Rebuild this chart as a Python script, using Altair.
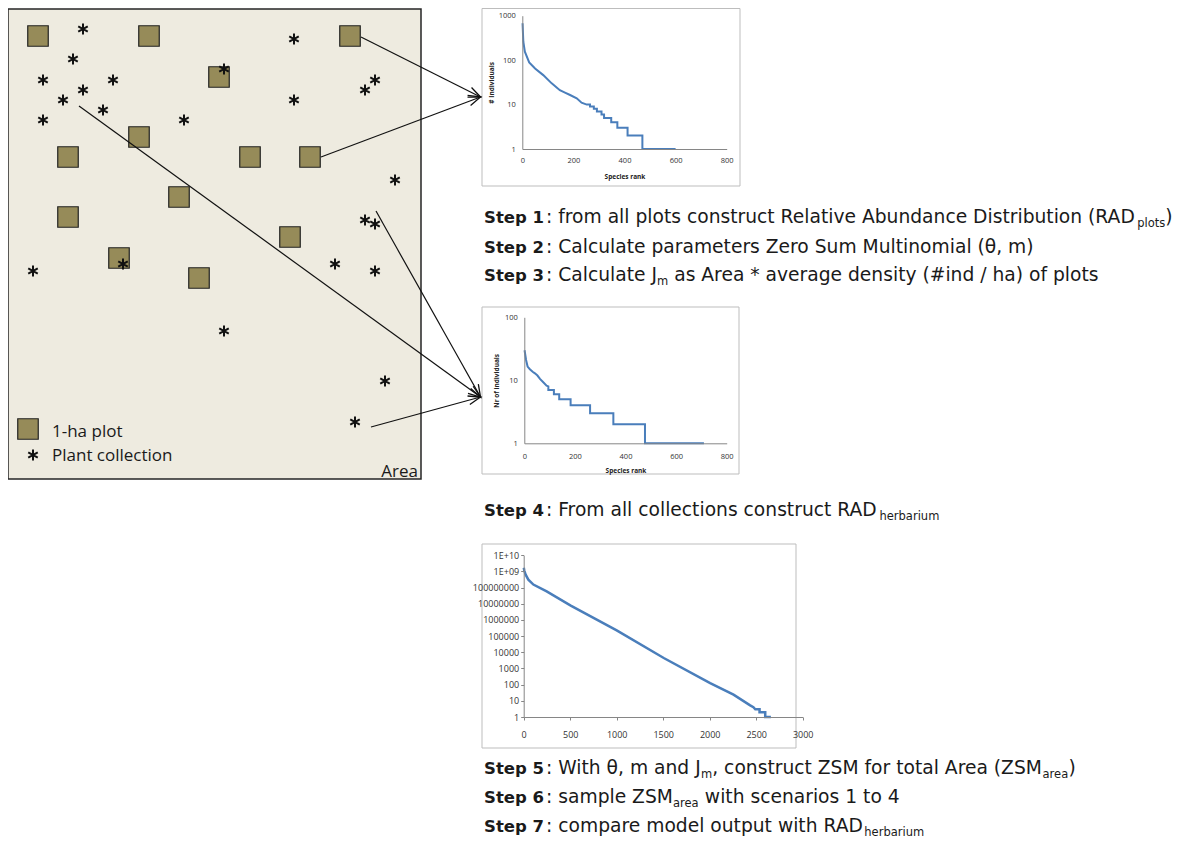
import altair as alt
import pandas as pd

W, H = 1173, 831          # drawing area (page minus 8px margins)
M = 8                     # page margin: reference pixel -> plot pixel = ref - M

# ---------------- data: the three small rank-abundance charts ----------------
rad_plots_rank = [1, 4, 10, 27, 50, 82, 115, 147, 167, 187, 213, 232, 252, 265, 265, 280, 280,
                  292, 292, 310, 310, 320, 320, 348, 348, 372, 372, 412, 412, 470, 470, 600]
rad_plots_n = [676, 260, 155, 89, 65, 46, 30, 21, 18.6, 16.4, 13.8, 11, 10, 10, 9, 9, 8,
               8, 7, 7, 6, 6, 5, 5, 4, 4, 3, 3, 2, 2, 1, 1]

rad_herb_rank = [1, 7, 13, 22, 33, 42, 52, 62, 75, 88, 95, 95, 117, 117, 138, 138, 183, 183,
                 260, 260, 352, 352, 477, 477, 710]
rad_herb_n = [30, 21, 16.5, 15, 13.7, 12.9, 11.9, 10.5, 9.3, 8.2, 8, 7, 7, 6, 6, 5, 5, 4,
              4, 3, 3, 2, 2, 1, 1]

zsm_rank = [1, 7, 21, 50, 104, 247, 506, 1000, 1506, 2005, 2256, 2435, 2470, 2490, 2536,
            2536, 2597, 2597, 2658]
zsm_n = [1.7e9, 1.1e9, 6.3e8, 3.1e8, 1.55e8, 5.9e7, 7.8e6, 2.3e5, 4470, 126, 24, 5.2, 4, 3, 3,
         2, 2, 1, 1]

plots_ticks = [1, 10, 100, 1000]
herb_ticks = [1, 10, 100]
zsm_ticks = [1, 10, 100, 1000, 10000, 100000, 1000000, 10000000, 100000000, 1e9, 1e10]
rank_ticks_800 = [0, 200, 400, 600, 800]
rank_ticks_3000 = [0, 500, 1000, 1500, 2000, 2500, 3000]

# ---------------- data: the schematic study area ----------------
plot_x = [38, 149, 350, 219, 139, 68, 250, 310, 179, 68, 290, 119, 199]
plot_y = [36, 36, 36, 77, 137, 157, 157, 157, 197, 217, 237, 258, 278]
coll_x = [83, 294, 73, 43, 113, 224, 375, 365, 83, 63, 294, 103, 43, 184, 395, 365, 375,
          33, 123, 335, 375, 224, 385, 355]
coll_y = [29, 39, 59, 80, 80, 69, 80, 90, 90, 100, 100, 110, 120, 120, 180, 220, 224,
          271, 264, 264, 271, 331, 381, 422]

legend_labels = ["1-ha plot", "Plant collection"]
area_label_text = "Area"

# step descriptions: (text, kind) with kind b = bold, n = normal, s = subscript
steps = [
    [("Step 1", "b"), (": from all plots construct Relative Abundance Distribution (RAD", "n"),
     ("plots", "s"), (")", "n")],
    [("Step 2", "b"), (": Calculate parameters Zero Sum Multinomial (θ, m)", "n")],
    [("Step 3", "b"), (": Calculate J", "n"), ("m", "s"),
     (" as Area * average density (#ind / ha) of plots", "n")],
    [("Step 4", "b"), (": From all collections construct RAD", "n"), ("herbarium", "s")],
    [("Step 5", "b"), (": With θ, m and J", "n"), ("m", "s"),
     (", construct ZSM for total Area (ZSM", "n"), ("area", "s"), (")", "n")],
    [("Step 6", "b"), (": sample ZSM", "n"), ("area", "s"), (" with scenarios 1 to 4", "n")],
    [("Step 7", "b"), (": compare model output with RAD", "n"), ("herbarium", "s")],
]

# ---------------- layout (reference pixel coordinates) ----------------
area_box = dict(x=8, x2=421, y=9, y2=479)
panel_x = [482, 482, 482]
panel_x2 = [740, 739, 796]
panel_y = [8.5, 307, 544]
panel_y2 = [186, 474, 748]

arrow_x1 = [361, 321, 79, 376, 371]
arrow_y1 = [37, 157, 106, 211, 427]
arrow_x2 = [480.5, 480.5, 480.5, 480.5, 480.5]
arrow_y2 = [97, 97, 397, 397, 397]

step_baseline = [223.3, 252.7, 281, 516.3, 774.3, 803.3, 831.7]
STEP_X, COLON_X = 484, 546
FS_N, FS_B, FS_S, SUB_DROP = 18.7, 16.5, 11.5, 4

FONT = "Open Sans"
STEP_FONT = "DejaVu Sans"
INK = "#1a1a1a"
BLUE = "#4A7EBB"

ASTERISK = "M0,-1L0,1M-0.87,-0.5L0.87,0.5M-0.87,0.5L0.87,-0.5"
ARROW = "M-1,-0.36L0,0L-1,0.36"

# approximate DejaVu Sans advance widths (em) used to chain text runs
_DV = {" ": .318, ":": .337, ",": .318, "(": .390, ")": .390, "*": .500, "#": .838, "/": .337,
       "θ": .602, "-": .361,
       "A": .684, "C": .698, "D": .770, "F": .575, "J": .295, "M": .863, "R": .695, "S": .635,
       "W": .989, "Z": .685,
       "a": .613, "b": .635, "c": .550, "d": .635, "e": .615, "f": .352, "g": .635, "h": .634,
       "i": .278, "j": .278, "k": .579, "l": .278, "m": .974, "n": .634, "o": .612, "p": .635,
       "q": .635, "r": .411, "s": .521, "t": .392, "u": .634, "v": .592, "w": .818, "x": .592,
       "y": .592, "z": .525}


def tw(s, size):
    return sum(_DV.get(c, 0.636) for c in s) * size


rows = []
for li, line in enumerate(steps):
    xcur = None
    for text, kind in line:
        if kind == "b":
            rows.append(dict(t=text, x=STEP_X, y=step_baseline[li], k="b"))
            xcur = COLON_X
            continue
        size = FS_S if kind == "s" else FS_N
        lead = len(text) - len(text.lstrip(" "))
        x0 = xcur + tw(text[:lead], size)
        body = text.strip(" ")
        rows.append(dict(t=body, x=x0, y=step_baseline[li] + (SUB_DROP if kind == "s" else 0), k=kind))
        xcur = x0 + tw(body, size)
steps_df = pd.DataFrame(rows)


def sx():
    return alt.Scale(domain=[M, M + W], range=[0, W], nice=False, zero=False)


def sy():
    return alt.Scale(domain=[M, M + H], range=[0, H], nice=False, zero=False)


def base(df):
    return alt.Chart(df)


def XY(xf="x", yf="y"):
    return dict(x=alt.X(f"{xf}:Q", scale=sx(), axis=None), y=alt.Y(f"{yf}:Q", scale=sy(), axis=None))


area = base(pd.DataFrame([area_box])).mark_rect(
    fill="#EEEBE0", stroke="#262626", strokeWidth=1.5
).encode(**XY(), x2="x2:Q", y2="y2:Q")

panels = base(pd.DataFrame({"x": panel_x, "x2": panel_x2, "y": panel_y, "y2": panel_y2})).mark_rect(
    fill="white", stroke="#BDBDBD", strokeWidth=1
).encode(**XY(), x2="x2:Q", y2="y2:Q")

squares = base(pd.DataFrame({"x": plot_x + [28], "y": plot_y + [429]})).mark_square(
    size=420, fill="#968B59", stroke="#222222", strokeWidth=1.2, opacity=1
).encode(**XY())

stars = base(pd.DataFrame({"x": coll_x + [33], "y": coll_y + [455]})).mark_point(
    shape=ASTERISK, size=120, stroke="#111111", strokeWidth=2, filled=False, opacity=1
).encode(**XY())

arr_df = pd.DataFrame({"x": arrow_x1, "y": arrow_y1, "x2": arrow_x2, "y2": arrow_y2})
arrow_lines = base(arr_df).mark_rule(color="#111111", strokeWidth=1.2).encode(
    **XY(), x2="x2:Q", y2="y2:Q")
arrow_heads = base(arr_df).transform_calculate(
    ang="atan2(datum.y2 - datum.y, datum.x2 - datum.x) * 180 / PI"
).mark_point(shape=ARROW, size=600, stroke="#111111", strokeWidth=1.3, filled=False, opacity=1).encode(
    **XY("x2", "y2"), angle=alt.Angle("ang:Q", scale=None))


def rad_chart(ranks, counts, xmax, x0, x1, y_bottom, y_top, ymax, yvals, xvals,
              xtitle, ytitle, fs, label_expr=None, ticks=False, lpx=6, lpy=6, tpx=6, tpy=4,
              lw=2.0):
    df = pd.DataFrame({"rank": ranks, "n": counts, "i": list(range(len(ranks)))})
    common = dict(grid=False, ticks=ticks, tickSize=3, tickColor="#868686", domainColor="#868686",
                  labelFontSize=fs, labelColor="#333333", labelFont=FONT, labelOverlap=False,
                  zindex=1, format="d")
    xaxis = dict(common, orient="bottom", offset=(y_bottom - M) - H, values=xvals,
                 labelFlush=False, labelPadding=lpx)
    yaxis = dict(common, orient="left", offset=-(x0 - M), values=yvals, labelPadding=lpy)
    if label_expr:
        yaxis["labelExpr"] = label_expr
    ttl = dict(titleFontSize=6.5, titleFont=FONT, titleFontWeight="bold", titleColor="#222222")
    if xtitle:
        xaxis.update(ttl, title=xtitle, titlePadding=tpx)
    else:
        xaxis["title"] = ""
    if ytitle:
        yaxis.update(ttl, title=ytitle, titlePadding=tpy)
    else:
        yaxis["title"] = ""
    return base(df).mark_line(color=BLUE, strokeWidth=lw).encode(
        x=alt.X("rank:Q", scale=alt.Scale(domain=[0, xmax], range=[x0 - M, x1 - M], nice=False,
                                         zero=False), axis=alt.Axis(**xaxis)),
        y=alt.Y("n:Q", scale=alt.Scale(type="log", domain=[1, ymax], range=[y_bottom - M, y_top - M],
                                      nice=False), axis=alt.Axis(**yaxis)),
        order="i:Q")


chart_plots = rad_chart(rad_plots_rank, rad_plots_n, 800, 522.3, 726.7, 149, 15.7, 1000,
                        plots_ticks, rank_ticks_800, "Species rank", "# Individuals", 7.5,
                        lpx=7, lpy=7, tpx=10, tpy=4)
chart_herb = rad_chart(rad_herb_rank, rad_herb_n, 800, 524.3, 726.7, 443.3, 317.3, 100,
                       herb_ticks, rank_ticks_800, "Species rank", "Nr of individuals", 7.5,
                       lpx=9, lpy=7, tpx=8, tpy=5)
chart_zsm = rad_chart(zsm_rank, zsm_n, 3000, 523.7, 802.7, 717, 555.3, 1e10,
                      zsm_ticks, rank_ticks_3000, None, None, 9,
                      label_expr="datum.value >= 1e10 ? '1E+10' : datum.value >= 1e9 ? '1E+09' : format(datum.value, 'd')",
                      ticks=True, lpx=10, lpy=2, lw=2.5)


def text_layer(df, size, weight="normal", font=FONT, align="left"):
    return base(df).mark_text(align=align, baseline="alphabetic", font=font, fontSize=size,
                              fontWeight=weight, color=INK).encode(**XY(), text="t:N")


bold_df = steps_df[steps_df.k == "b"]
norm_df = steps_df[steps_df.k == "n"]
sub_df = steps_df[steps_df.k == "s"]

legend_df = pd.DataFrame({"t": legend_labels, "x": [52, 52], "y": [437.3, 460.7]})
area_df = pd.DataFrame({"t": [area_label_text], "x": [418], "y": [477.3]})

chart = alt.layer(
    area, panels, squares, stars, arrow_lines, arrow_heads,
    chart_plots, chart_herb, chart_zsm,
    text_layer(bold_df, FS_B, "bold", STEP_FONT), text_layer(norm_df, FS_N, font=STEP_FONT),
    text_layer(sub_df, FS_S, font=STEP_FONT),
    text_layer(legend_df, 17), text_layer(area_df, 17, align="right"),
).resolve_scale(x="independent", y="independent").properties(
    width=W, height=H, padding=0, autosize=alt.AutoSizeParams(type="none"),
    background="white"
).configure_view(stroke=None)

chart.save("out.html", embed_options={"renderer": "svg", "actions": False})
